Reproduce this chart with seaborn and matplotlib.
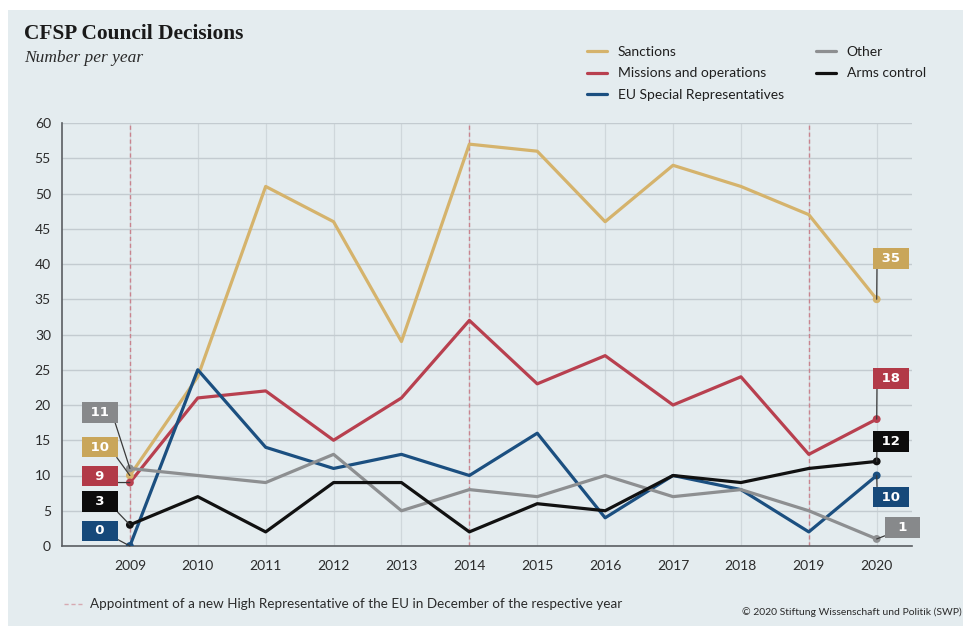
import matplotlib
matplotlib.use("Agg")
import matplotlib.pyplot as plt
import seaborn as sns
import pandas as pd
from matplotlib.patches import Rectangle
from matplotlib.lines import Line2D

# ---------------- data ----------------
years = list(range(2009, 2021))
sanctions = [10, 24, 51, 46, 29, 57, 56, 46, 54, 51, 47, 35]
missions = [9, 21, 22, 15, 21, 32, 23, 27, 20, 24, 13, 18]
eusr = [0, 25, 14, 11, 13, 10, 16, 4, 10, 8, 2, 10]
other = [11, 10, 9, 13, 5, 8, 7, 10, 7, 8, 5, 1]
arms = [3, 7, 2, 9, 9, 2, 6, 5, 10, 9, 11, 12]
series_names = ["Sanctions", "Missions and operations", "EU Special Representatives",
                "Other", "Arms control"]
hr_years = [2009, 2014, 2019]
yticks = list(range(0, 61, 5))

title = "CFSP Council Decisions"
subtitle = "Number per year"
footnote = "Appointment of a new High Representative of the EU in December of the respective year"
credit = "\u00a9 2020 Stiftung Wissenschaft und Politik (SWP)"

# ---------------- styles ----------------
line_colors = {
    "Sanctions": "#d5b36c",
    "Missions and operations": "#b8404f",
    "EU Special Representatives": "#1b4f80",
    "Other": "#8d8f91",
    "Arms control": "#111111",
}
box_colors = {
    "Sanctions": "#c9a65a",
    "Missions and operations": "#b23a48",
    "EU Special Representatives": "#16497a",
    "Other": "#87898b",
    "Arms control": "#0c0c0c",
}
# label offsets (points) relative to the data point: (dx, dy, relpos)
left_lab = {
    "Other": (-11.5, 40.3, (1, 0)),
    "Sanctions": (-11.5, 20.5, (1, 0)),
    "Missions and operations": (-11.5, 4.7, (1, 0)),
    "Arms control": (-11.5, 16.6, (1, 0)),
    "EU Special Representatives": (-11.5, 10.8, (1, 0)),
}
right_lab = {
    "Sanctions": (0.3, 29.5, (0, 1)),
    "Missions and operations": (0.3, 29.5, (0, 1)),
    "Arms control": (0.3, 14.5, (0, 1)),
    "EU Special Representatives": (0.3, -15.5, (0, 1)),
    "Other": (8.6, 8.0, (0, 0)),
}

BG = "#e4ecef"
values = [sanctions, missions, eusr, other, arms]
df = pd.DataFrame(
    [(n, y, v) for n, vals in zip(series_names, values) for y, v in zip(years, vals)],
    columns=["Series", "Year", "Value"],
)

sns.set_theme(style="white")
plt.rcParams["font.family"] = ["Lato", "DejaVu Sans"]

fig = plt.figure(figsize=(9.69, 6.30), dpi=100)
fig.patch.set_facecolor("white")
fig.add_artist(Rectangle((8 / 969, 1 - 626 / 630), (963 - 8) / 969, (626 - 10) / 630,
                         transform=fig.transFigure, facecolor=BG, edgecolor="none", zorder=0))

ax = fig.add_axes([62 / 969, 1 - 546 / 630, (912 - 62) / 969, (546 - 123) / 630])
ax.set_facecolor(BG)

sns.lineplot(data=df, x="Year", y="Value", hue="Series", hue_order=series_names,
             palette=line_colors, linewidth=2.3, ax=ax, legend=False, zorder=3)
ends = df[df["Year"].isin([years[0], years[-1]])]
sns.scatterplot(data=ends, x="Year", y="Value", hue="Series", hue_order=series_names,
                palette=line_colors, s=32, edgecolor="none", ax=ax, legend=False, zorder=4)

for y in hr_years:
    ax.axvline(y, color="#c9848f", ls=(0, (3, 2)), lw=1.0, zorder=2)

ax.set_xlim(2008, 2020.52)
ax.set_ylim(0, 60)
ax.set_xticks(years)
ax.set_yticks(yticks)
ax.set_axisbelow(True)
ax.grid(axis="y", color="#c3cbd0", lw=1.0)
ax.grid(axis="x", color="#cfd7db", lw=0.9)
ax.set_xlabel("")
ax.set_ylabel("")
for s in ["top", "right"]:
    ax.spines[s].set_visible(False)
for s in ["left", "bottom"]:
    ax.spines[s].set_color("#5a5e62")
    ax.spines[s].set_linewidth(1.2)
ax.tick_params(axis="both", direction="out", length=4, width=1, color="#5a5e62",
               labelsize=10, labelcolor="#2b2b2b", pad=4)
ax.tick_params(axis="x", pad=6)


def flag(x, y, v, name, spec, ha):
    dx, dy, rp = spec
    s = str(v)
    txt = f" {s} " if len(s) == 2 else f"  {s}  "
    ax.annotate(txt, xy=(x, y), xytext=(dx, dy), textcoords="offset points",
                ha=ha, va="center", color="white", fontsize=9.5, fontweight="bold",
                family="DejaVu Sans",
                bbox=dict(boxstyle="square,pad=0.3", fc=box_colors[name], ec="none"),
                arrowprops=dict(arrowstyle="-", color="#3a3a3a", lw=0.9, relpos=rp,
                                shrinkA=0, shrinkB=0),
                zorder=6, annotation_clip=False)


for name, vals in zip(series_names, values):
    flag(years[0], vals[0], vals[0], name, left_lab[name], "right")
    flag(years[-1], vals[-1], vals[-1], name, right_lab[name], "left")

# titles
fig.text(24 / 969, 1 - 34 / 630, title, family=["Liberation Serif", "DejaVu Serif"],
         fontweight="bold", fontsize=15.4, color="#1a1a1a", va="center")
fig.text(24 / 969, 1 - 58 / 630, subtitle, family=["Liberation Serif", "DejaVu Serif"],
         style="italic", fontsize=12.5, color="#2a2a2a", va="center")

# legends
handles = [Line2D([], [], color=line_colors[n], lw=2.3) for n in series_names]
leg_kw = dict(frameon=False, fontsize=10, handlelength=1.45, handletextpad=0.75,
              labelspacing=0.68, borderpad=0, borderaxespad=0, loc="upper left")
l1 = fig.legend(handles[:3], series_names[:3], bbox_to_anchor=(587 / 969, 1 - 46 / 630), **leg_kw)
l2 = fig.legend(handles[3:], series_names[3:], bbox_to_anchor=(816 / 969, 1 - 46 / 630), **leg_kw)
for l in (l1, l2):
    for t in l.get_texts():
        t.set_color("#1f1f1f")

# footer
fig.add_artist(Line2D([64 / 969, 82 / 969], [1 - 604 / 630, 1 - 604 / 630],
                      transform=fig.transFigure, color="#d6a9b1", ls=(0, (3, 2)), lw=1))
fig.text(90 / 969, 1 - 604 / 630, footnote, fontsize=9.7, color="#2b2b2b", va="center")
fig.text(962 / 969, 1 - 612 / 630, credit, fontsize=7.5, color="#2b2b2b", va="center", ha="right")

fig.savefig("out.png", dpi=100, facecolor=fig.get_facecolor())
